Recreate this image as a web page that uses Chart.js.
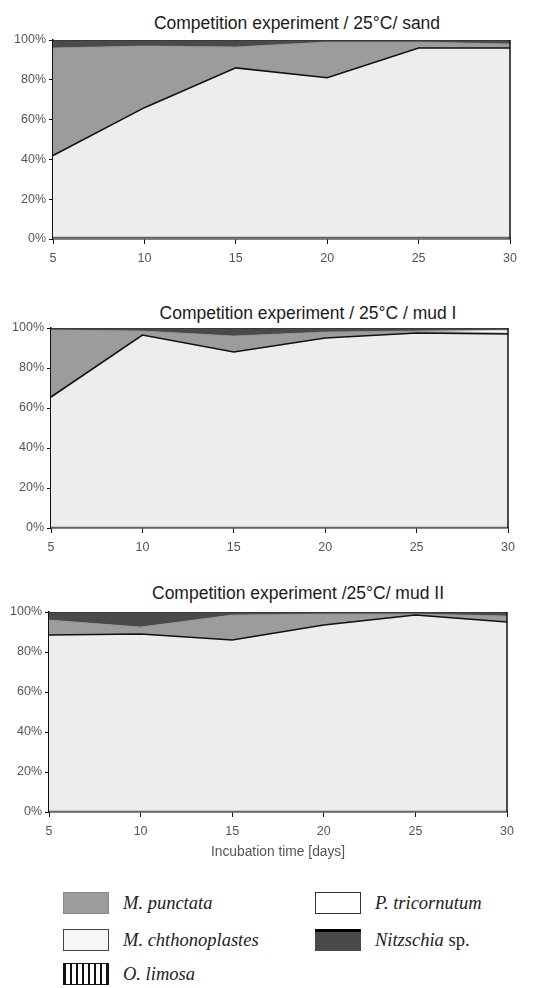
<!DOCTYPE html>
<html><head><meta charset="utf-8">
<script src="https://cdn.jsdelivr.net/npm/chart.js@4"></script>
<style>
body{margin:0;background:#fff;width:553px;height:988px;position:relative;overflow:hidden;font-family:"Liberation Sans",Arial,sans-serif}
canvas{position:absolute;left:0}
.title{position:absolute;font-size:17.5px;color:#1a1a1a;white-space:nowrap;transform:translate(-50%,-50%)}
.leg{position:absolute;font-family:"Liberation Serif","Times New Roman",serif;font-style:italic;font-size:18.5px;color:#222;white-space:nowrap;transform:translateY(-50%)}
.leg span{font-style:normal}
.sw{position:absolute;box-sizing:border-box;transform:translateY(-50%)}
</style></head><body>
<div class="title" style="left:297px;top:23px">Competition experiment / 25°C/ sand</div>
<div class="title" style="left:308px;top:313px">Competition experiment / 25°C / mud I</div>
<div class="title" style="left:298px;top:593px">Competition experiment /25°C/ mud II</div>
<canvas id="c1" width="553" height="270" style="top:0"></canvas>
<canvas id="c2" width="553" height="275" style="top:280px"></canvas>
<canvas id="c3" width="553" height="310" style="top:555px"></canvas>
<div id="legend"></div>
<script>
// ---- data ----
const days = ['5','10','15','20','25','30'];
const yTicks = [0,20,40,60,80,100];
const speciesNames = ['O. limosa','M. chthonoplastes','M. punctata','P. tricornutum','Nitzschia sp.'];
const chartTitles = ['Competition experiment / 25°C/ sand','Competition experiment / 25°C / mud I','Competition experiment /25°C/ mud II'];
const xAxisTitle = 'Incubation time [days]';

// sand (percent of community)
const sandOLimosa        = [1, 1, 1, 1, 1, 1];
const sandMChthonoplastes= [41, 65, 85, 80, 95, 95];
const sandMPunctata      = [54, 31, 10.5, 18, 3, 2];
const sandPTricornutum   = [0, 0, 0, 0, 0, 0];
const sandNitzschia      = [4, 3, 3.5, 1, 1, 2];

// mud I
const mud1OLimosa        = [0.5, 0.5, 0.5, 0.5, 0.5, 0.5];
const mud1MChthonoplastes= [65, 96, 87.5, 94.5, 97, 96.5];
const mud1MPunctata      = [33.5, 2, 8, 3, 1, 0.5];
const mud1PTricornutum   = [0, 0, 0, 0, 0, 1.5];
const mud1Nitzschia      = [1, 1.5, 4, 2, 1.5, 1];

// mud II
const mud2OLimosa        = [0.5, 0.5, 0.5, 0.5, 0.5, 0.5];
const mud2MChthonoplastes= [88, 88.5, 85.5, 93, 98, 94.5];
const mud2MPunctata      = [7.5, 3.5, 12.5, 5.5, 0.5, 3];
const mud2PTricornutum   = [0, 0, 0, 0, 0, 0];
const mud2Nitzschia      = [4, 7.5, 1.5, 1, 1, 2];

// ---- styles ----
const fills   = ['#6e6e6e', '#ededed', '#9c9c9c', '#fafafa', '#4a4a4a'];
const borders = ['#555',    '#111',    '#8a8a8a', '#888',    '#222'];
const bw      = [0.5,        1.6,       0.5,       0.5,       0.8];

const frame = {
  id:'frame',
  beforeDatasetsDraw(chart){
    const a = chart.chartArea, ctx = chart.ctx;
    ctx.save(); ctx.fillStyle = '#efefef';
    ctx.fillRect(a.left, a.top, a.right-a.left, a.bottom-a.top); ctx.restore();
  },
  afterDatasetsDraw(chart){
    const a = chart.chartArea, ctx = chart.ctx;
    ctx.save(); ctx.strokeStyle = '#111'; ctx.lineWidth = 1.5;
    ctx.beginPath(); ctx.moveTo(a.right, a.top); ctx.lineTo(a.right, a.bottom); ctx.stroke();
    ctx.restore();
  }
};

function makeChart(id, series, geo, withTitle){
  const datasets = series.map((d,i)=>({
    label: speciesNames[i], data: d,
    backgroundColor: fills[i], borderColor: borders[i], borderWidth: bw[i],
    fill: i===0 ? 'origin' : '-1', pointRadius: 0, tension: 0
  }));
  return new Chart(document.getElementById(id), {
    type:'line',
    data:{labels: days, datasets},
    options:{
      responsive:false, animation:false,
      layout:{padding:{top:geo.top, right:geo.right, left:0, bottom:0}},
      plugins:{legend:{display:false}, tooltip:{enabled:false}},
      scales:{
        x:{
          grid:{drawOnChartArea:false, drawTicks:true, tickLength:5, color:'#111'},
          border:{color:'#111', width:1.5},
          ticks:{color:'#555', font:{family:'Liberation Sans', size:12.5}, padding:7, maxRotation:0},
          title: withTitle ? {display:true, text:xAxisTitle, color:'#555', font:{family:'Liberation Sans', size:13.8}, padding:{top:0,bottom:5}} : {display:false},
          afterFit(s){ s.height = geo.xh; }
        },
        y:{
          stacked:true, min:0, max:100,
          afterBuildTicks(s){ s.ticks = yTicks.map(v=>({value:v})); },
          grid:{drawOnChartArea:false, drawTicks:true, tickLength:4, color:'#111'},
          border:{color:'#111', width:1.5},
          ticks:{color:'#555', font:{family:'Liberation Sans', size:12.5}, padding:3, callback:v=>v+'%'},
          afterFit(s){ s.width = geo.left; }
        }
      }
    },
    plugins:[frame]
  });
}

makeChart('c1', [sandOLimosa, sandMChthonoplastes, sandMPunctata, sandPTricornutum, sandNitzschia],
  {top:40, right:43, left:53, xh:31}, false);
makeChart('c2', [mud1OLimosa, mud1MChthonoplastes, mud1MPunctata, mud1PTricornutum, mud1Nitzschia],
  {top:48, right:45, left:51, xh:27}, false);
makeChart('c3', [mud2OLimosa, mud2MChthonoplastes, mud2MPunctata, mud2PTricornutum, mud2Nitzschia],
  {top:57, right:46, left:49, xh:53}, true);

// ---- legend (HTML) ----
const legendItems = [
  {name:'M. punctata', x:63, y:903, bg:fills[2], border:'1px solid #888'},
  {name:'M. chthonoplastes', x:63, y:940, bg:'#f6f6f6', border:'1.5px solid #444'},
  {name:'O. limosa', x:63, y:974, bg:'repeating-linear-gradient(90deg,#111 0 2px,#fff 2px 6px)', border:'1.5px solid #111'},
  {name:'P. tricornutum', x:315, y:903, bg:'#fff', border:'1.5px solid #333'},
  {name:'Nitzschia', suffix:' sp.', x:315, y:940, bg:fills[4], border:'none', top:'3px solid #000'}
];
const lg = document.getElementById('legend');
legendItems.forEach(it=>{
  const sw = document.createElement('div');
  sw.className='sw';
  sw.style.cssText = `left:${it.x}px;top:${it.y}px;width:46px;height:22px;background:${it.bg};border:${it.border};` + (it.top?`border-top:${it.top};`:'');
  lg.appendChild(sw);
  const t = document.createElement('div');
  t.className='leg';
  t.style.left = (it.x+60)+'px'; t.style.top = it.y+'px';
  t.textContent = it.name;
  if(it.suffix){ const s=document.createElement('span'); s.textContent=it.suffix; t.appendChild(s); }
  lg.appendChild(t);
});
</script>
</body></html>
